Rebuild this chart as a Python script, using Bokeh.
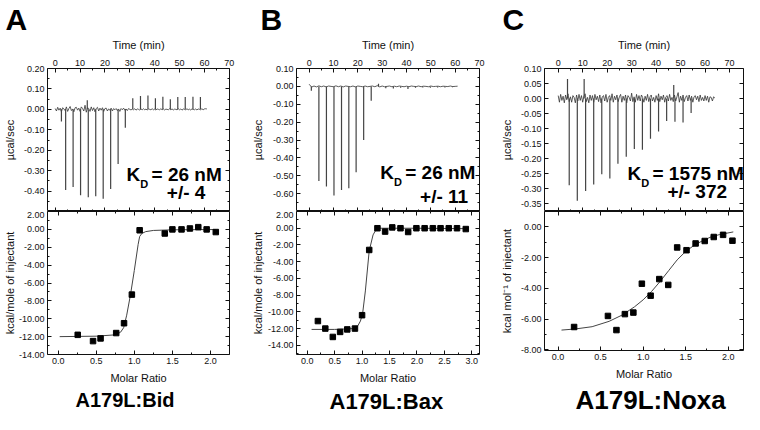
from bokeh.plotting import figure
from bokeh.models import Range1d, LinearAxis, FixedTicker, PrintfTickFormatter, CustomJSTickFormatter, Label, Title
from bokeh.layouts import row, column
from bokeh.embed import file_html
from bokeh.resources import INLINE

FONT = "Liberation Sans"

# ---------------- Panel A (A179L:Bid) ----------------
a_spike_t = [2.5, 4.2, 7.2, 10.2, 12.9, 13.3, 16.3, 19.3, 22.3, 25.3, 28.2,
             31.2, 34.3, 37.3, 40.3, 43.3, 46.3, 49.3, 52.3, 55.4, 58.4]
a_spike_h = [-0.06, -0.395, -0.38, -0.42, 0.045, -0.43, -0.425, -0.437, -0.39, -0.267, -0.09,
             0.054, 0.065, 0.068, 0.054, 0.062, 0.05, 0.06, 0.06, 0.062, 0.06]
# baseline, every 0.5 min from 0 to 61 min
a_noise = [0.004, -0.008, 0.01, -0.004, 0.006, -0.012, 0.008, 0.002, -0.006, 0.012,
           -0.01, 0.004, 0.014, -0.006, 0.002, -0.012, 0.008, 0.01, -0.004, 0.006,
           -0.01, 0.012, 0.004, -0.008, 0.02, -0.014, 0.008, 0.004, -0.01, 0.012,
           -0.006, 0.008, -0.012, 0.004, 0.01, -0.008, 0.006, -0.004, 0.008, -0.01,
           0.004, 0.006, -0.008, 0.002, -0.004, 0.006, -0.008, 0.004, -0.002, 0.004,
           -0.006, 0.002, -0.01, 0.004, -0.002, 0.006, -0.004, 0.002, -0.006, 0.004,
           0.0,
           -0.003, 0.002, -0.002, 0.003, -0.004, 0.002, 0.0, -0.003, 0.002, -0.002,
           0.003, -0.002, 0.001, -0.003, 0.002, 0.0, -0.002, 0.003, -0.002, 0.001,
           -0.003, 0.002, 0.0, -0.002, 0.003, -0.002, 0.002, -0.003, 0.001, 0.0,
           -0.002, 0.003, -0.002, 0.002, -0.003, 0.001, 0.0, -0.002, 0.003, -0.002,
           0.002, -0.004, 0.002, 0.0, -0.002, 0.003, -0.002, 0.001, -0.003, 0.002,
           0.0, -0.002, 0.002, -0.003, 0.002, 0.0, -0.002, 0.003, -0.002, 0.002,
           0.003, 0.002]
a_ratio = [0.257, 0.458, 0.557, 0.762, 0.865, 0.968, 1.07, 1.40, 1.50, 1.62, 1.73, 1.84, 1.95, 2.07]
a_heat = [-11.8, -12.5, -12.2, -11.6, -10.5, -7.3, -0.1, -0.46, 0.0, 0.0, 0.1, 0.25, 0.0, -0.3]
a_fit_x = [0.02, 0.5, 0.75, 0.82, 0.86, 0.9, 0.95, 1.0, 1.05, 1.07, 1.1, 1.15, 1.25, 1.5, 1.8, 2.07]
a_fit_y = [-12.0, -11.95, -11.8, -11.5, -11.0, -9.6, -7.3, -4.6, -1.7, -0.8, -0.45, -0.25, -0.12, -0.05, -0.03, -0.02]

# ---------------- Panel B (A179L:Bax) ----------------
b_spike_t = [0.9, 4.0, 7.1, 10.2, 13.3, 16.3, 19.3, 22.4, 25.5, 28.5,
             31.5, 34.6, 37.6, 40.6, 43.7, 46.7, 49.8, 52.8, 55.8, 58.9]
b_spike_h = [-0.025, -0.53, -0.56, -0.61, -0.58, -0.57, -0.48, -0.30, -0.08, 0.015,
             -0.01, -0.012, -0.008, -0.015, -0.008, -0.006, -0.008, -0.006, -0.006, -0.005]
# baseline, every 1 min from 0 to 61 min
b_noise = [0.012, -0.004, 0.002, -0.003, 0.003, -0.002, 0.002, -0.003, 0.002, 0.0,
           -0.002, 0.003, -0.002, 0.002, -0.003, 0.002, 0.0, -0.002, 0.002, -0.003,
           0.002, 0.0, -0.002, 0.002, -0.002, 0.0, 0.002, -0.002, 0.004, -0.003,
           0.002, -0.002, 0.0, 0.002, -0.002, 0.001, -0.002, 0.002, 0.0, -0.002,
           0.001, -0.002, 0.002, 0.0, -0.001, 0.002, -0.002, 0.001, 0.0, -0.002,
           0.002, -0.001, 0.0, 0.001, -0.002, 0.001, 0.0, -0.001, 0.002, -0.001,
           0.0, 0.001]
b_ratio = [0.195, 0.33, 0.467, 0.60, 0.73, 0.87, 1.0, 1.13, 1.28, 1.42, 1.55, 1.70,
           1.84, 1.99, 2.14, 2.29, 2.43, 2.58, 2.73, 2.89]
b_heat = [-11.1, -12.0, -13.0, -12.4, -12.1, -12.0, -10.4, -2.6, 0.0, -0.4, 0.1, 0.0,
          -0.45, 0.0, 0.0, 0.0, 0.0, 0.0, 0.0, -0.1]
b_fit_x = [0.08, 0.5, 0.85, 0.92, 0.97, 1.01, 1.06, 1.13, 1.2, 1.26, 1.3, 1.6, 2.0, 2.9]
b_fit_y = [-12.1, -12.1, -12.0, -11.7, -11.1, -10.2, -7.5, -2.7, -0.8, -0.1, 0.0, 0.0, 0.0, -0.05]

# ---------------- Panel C (A179L:Noxa) ----------------
c_spike_t = [3.8, 4.5, 7.8, 10.6, 11.2, 14.5, 17.8, 21.1, 24.4, 27.8, 31.1, 34.4, 37.7,
             41.0, 44.3, 47.2, 47.7, 51.0, 54.3]
c_spike_h = [0.065, -0.288, -0.339, 0.065, -0.307, -0.285, -0.251, -0.265, -0.216, -0.193,
             -0.167, -0.17, -0.133, -0.109, -0.074, 0.045, -0.077, -0.079, -0.048]
# baseline, every 0.5 min from 0 to 64 min
c_noise = [0.01, -0.012, 0.014, -0.006, 0.008, -0.014, 0.012, -0.004, 0.016, -0.01,
           0.006, -0.012, 0.01, 0.004, -0.014, 0.012, -0.008, 0.014, -0.006, 0.01,
           -0.012, 0.008, 0.016, -0.01, 0.004, -0.014, 0.012, -0.006, 0.01, -0.012,
           0.014, -0.004, 0.008, -0.01, 0.012, -0.014, 0.006, 0.01, -0.008, 0.014,
           -0.012, 0.004, 0.01, -0.006, 0.016, -0.012, 0.008, -0.004, 0.012, -0.01,
           0.006, 0.014, -0.012, 0.008, -0.006, 0.012, -0.014, 0.01, 0.004, -0.008,
           0.018, -0.01, 0.006, -0.012, 0.014, -0.006, 0.01, -0.008, 0.012, 0.004,
           -0.012, 0.008, -0.006, 0.014, -0.01, 0.006, 0.012, -0.008, 0.004, -0.012,
           0.01, -0.006, 0.016, -0.01, 0.008, -0.004, 0.012, -0.012, 0.006, 0.01,
           -0.008, 0.014, -0.006, 0.004, -0.01, 0.012, -0.008, 0.006, 0.02, -0.012,
           0.008, -0.006, 0.012, -0.01, 0.004, 0.01, -0.008, 0.012, -0.006, 0.008,
           -0.012, 0.006, 0.01, -0.004, 0.008, -0.01, 0.012, -0.006, 0.004, -0.008,
           0.01, -0.006, 0.008, -0.012, 0.006, 0.004, -0.008, 0.006, 0.002]
c_ratio = [0.188, 0.586, 0.686, 0.785, 0.885, 0.985, 1.088, 1.19, 1.295, 1.40, 1.51,
           1.617, 1.724, 1.83, 1.94, 2.05]
c_heat = [-6.52, -5.8, -6.72, -5.68, -5.58, -3.7, -4.48, -3.4, -3.78, -1.34, -1.52,
          -1.08, -0.92, -0.66, -0.52, -0.9]
c_fit_x = [0.04, 0.2, 0.4, 0.6, 0.75, 0.9, 1.0, 1.1, 1.2, 1.3, 1.4, 1.5, 1.6, 1.7, 1.8, 1.9, 2.06]
c_fit_y = [-6.72, -6.65, -6.5, -6.15, -5.75, -5.2, -4.75, -4.2, -3.55, -2.85, -2.15,
           -1.6, -1.2, -0.9, -0.65, -0.5, -0.33]

time_ticks = [0, 10, 20, 30, 40, 50, 60, 70]
time_minor = [5, 15, 25, 35, 45, 55, 65]

H_TOP = 211
H_BOT = 203
TOP_BORDER = 65
BOT_BORDER = 60


def style_axis(ax, tick_label=True, label_standoff=4):
    ax.axis_line_color = None
    ax.major_tick_in = 4
    ax.major_tick_out = 0
    ax.minor_tick_in = 2
    ax.minor_tick_out = 0
    ax.major_tick_line_color = "#111111"
    ax.minor_tick_line_color = "#111111"
    ax.major_label_text_font = FONT
    ax.major_label_text_font_size = "9px"
    ax.major_label_text_color = "#111111"
    ax.major_label_standoff = 3
    ax.axis_label_text_font = FONT
    ax.axis_label_text_font_size = "11px"
    ax.axis_label_text_font_style = "normal"
    ax.axis_label_text_color = "#111111"
    ax.axis_label_standoff = label_standoff
    if not tick_label:
        ax.formatter = CustomJSTickFormatter(code="return ''")
        ax.major_label_text_font_size = "0px"
        ax.major_label_standoff = 0
        ax.axis_label_standoff = 0


def base_fig(xr, yr, w, h, bl, br, bt, bb, xloc):
    p = figure(width=w, height=h, x_range=Range1d(*xr), y_range=Range1d(*yr),
               x_axis_location=xloc, toolbar_location=None, output_backend="svg", tools="",
               min_border_left=bl, min_border_right=br, min_border_top=bt, min_border_bottom=bb)
    p.grid.visible = False
    p.outline_line_color = "#111111"
    p.outline_line_width = 1
    p.background_fill_color = "white"
    p.border_fill_color = "white"
    return p


def top_panel(letter, letter_off, xr, yr, w, bl, br, yticks, yminor, noise, sp_t, sp_h,
              kd_x, kd_y, kd_text, pm_x, pm_y, pm_text, ystand, step):
    p = base_fig(xr, yr, w, H_TOP, bl, br, TOP_BORDER, 0, "above")
    p.title = Title(text=letter, align="left", offset=letter_off, standoff=0,
                    text_font=FONT, text_font_size="30px", text_font_style="bold",
                    text_color="black")
    p.xaxis.ticker = FixedTicker(ticks=time_ticks, minor_ticks=time_minor)
    p.xaxis.formatter = PrintfTickFormatter(format="%d")
    p.xaxis.axis_label = "Time (min)"
    p.yaxis.ticker = FixedTicker(ticks=yticks, minor_ticks=yminor)
    p.yaxis.formatter = PrintfTickFormatter(format="%.2f")
    p.yaxis.axis_label = "µcal/sec"
    style_axis(p.xaxis[0], True, 6)
    style_axis(p.yaxis[0], True, ystand)
    ra = LinearAxis(ticker=FixedTicker(ticks=yticks, minor_ticks=yminor))
    style_axis(ra, False)
    p.add_layout(ra, "right")
    ba = LinearAxis(ticker=FixedTicker(ticks=time_ticks, minor_ticks=time_minor))
    style_axis(ba, False)
    p.add_layout(ba, "below")

    t = [i * step for i in range(len(noise))]
    p.line(t, noise, line_color="#333333", line_width=0.8)
    p.segment(x0=sp_t, y0=[0.0] * len(sp_t), x1=sp_t, y1=sp_h,
              line_color="#444444", line_width=1.2)

    # K_D annotation
    p.add_layout(Label(x=kd_x, y=kd_y, text="K", text_font=FONT, text_font_size="19px",
                       text_font_style="bold", text_color="black"))
    p.add_layout(Label(x=kd_x, y=kd_y, x_offset=13.7, y_offset=-5, text="D", text_font=FONT,
                       text_font_size="11px", text_font_style="bold", text_color="black"))
    p.add_layout(Label(x=kd_x, y=kd_y, x_offset=25, text=kd_text, text_font=FONT,
                       text_font_size="19px", text_font_style="bold", text_color="black"))
    p.add_layout(Label(x=pm_x, y=pm_y, text=pm_text, text_font=FONT, text_font_size="19px",
                       text_font_style="bold", text_color="black"))
    return p


def bottom_panel(title, title_off, title_size, xr, yr, w, bl, br, xticks, xminor, yticks, yminor,
                 ratio, heat, fx, fy, ylabel, ystand):
    p = base_fig(xr, yr, w, H_BOT, bl, br, 0, BOT_BORDER, "below")
    p.xaxis.ticker = FixedTicker(ticks=xticks, minor_ticks=xminor)
    p.xaxis.formatter = PrintfTickFormatter(format="%.1f")
    p.xaxis.axis_label = "Molar Ratio"
    p.yaxis.ticker = FixedTicker(ticks=yticks, minor_ticks=yminor)
    p.yaxis.formatter = PrintfTickFormatter(format="%.2f")
    p.yaxis.axis_label = ylabel
    style_axis(p.xaxis[0], True, 5)
    style_axis(p.yaxis[0], True, ystand)
    ra = LinearAxis(ticker=FixedTicker(ticks=yticks, minor_ticks=yminor))
    style_axis(ra, False)
    p.add_layout(ra, "right")
    ta = LinearAxis(ticker=FixedTicker(ticks=xticks, minor_ticks=xminor))
    style_axis(ta, False)
    p.add_layout(ta, "above")

    p.line(fx, fy, line_color="#444444", line_width=1)
    p.scatter(ratio, heat, marker="square", size=5.5, fill_color="black", line_color="black")

    p.add_layout(Title(text=title, align="left", offset=title_off, standoff=0,
                       text_font=FONT, text_font_size=title_size, text_font_style="bold",
                       text_color="black"), "below")
    return p


heat_ticks_ab = [2, 0, -2, -4, -6, -8, -10, -12, -14]
heat_minor_ab = [1, -1, -3, -5, -7, -9, -11, -13, -15]

# Panel A
tA = top_panel("A", -42, (-3.1, 70.1), (-0.5, 0.2), 248, 43, 19,
               [0.2, 0.1, 0.0, -0.1, -0.2, -0.3, -0.4], [0.15, 0.05, -0.05, -0.15, -0.25, -0.35, -0.45],
               a_noise, a_spike_t, a_spike_h, 28.7, -0.372, "= 26 nM", 44.9, -0.456, "+/- 4", 5, 0.5)
bA = bottom_panel("A179L:Bid", 28, "20px", (-0.14, 2.25), (-14, 2), 248, 43, 19,
                  [0.0, 0.5, 1.0, 1.5, 2.0], [0.25, 0.75, 1.25, 1.75],
                  heat_ticks_ab, heat_minor_ab, a_ratio, a_heat, a_fit_x, a_fit_y,
                  "kcal/mole of injectant", 0)

# Panel B
tB = top_panel("B", -36, (-5.2, 70), (-0.70, 0.10), 249, 43, 18,
               [0.1, 0.0, -0.1, -0.2, -0.3, -0.4, -0.5, -0.6],
               [0.05, -0.05, -0.15, -0.25, -0.35, -0.45, -0.55, -0.65],
               b_noise, b_spike_t, b_spike_h, 29.2, -0.538, "= 26 nM", 45.6, -0.677, "+/- 11", 6, 1.0)
bB = bottom_panel("A179L:Bax", 33, "22px", (-0.195, 3.14), (-15.1, 2.0), 249, 43, 18,
                  [0.0, 0.5, 1.0, 1.5, 2.0, 2.5, 3.0], [0.25, 0.75, 1.25, 1.75, 2.25, 2.75],
                  heat_ticks_ab, heat_minor_ab, b_ratio, b_heat, b_fit_x, b_fit_y,
                  "kcal/mole of injectant", 1)

# Panel C
tC = top_panel("C", -42, (-5.6, 75.7), (-0.375, 0.10), 247, 42, 1,
               [0.10, 0.05, 0.0, -0.05, -0.10, -0.15, -0.20, -0.25, -0.30, -0.35], [],
               c_noise, c_spike_t, c_spike_h, 28.3, -0.284, "= 1575 nM", 44.6, -0.344, "+/- 372", 5, 0.5)
bC = bottom_panel("A179L:Noxa", 31, "26px", (-0.16, 2.18), (-8.05, 1.0), 247, 42, 1,
                  [0.0, 0.5, 1.0, 1.5, 2.0], [0.25, 0.75, 1.25, 1.75],
                  [0, -2, -4, -6, -8], [1, -1, -3, -5, -7],
                  c_ratio, c_heat, c_fit_x, c_fit_y, "kcal mol⁻¹ of injectant", 5)

layout = row(column(tA, bA), column(tB, bB), column(tC, bC))

open("out.html", "w").write(file_html(layout, INLINE))
